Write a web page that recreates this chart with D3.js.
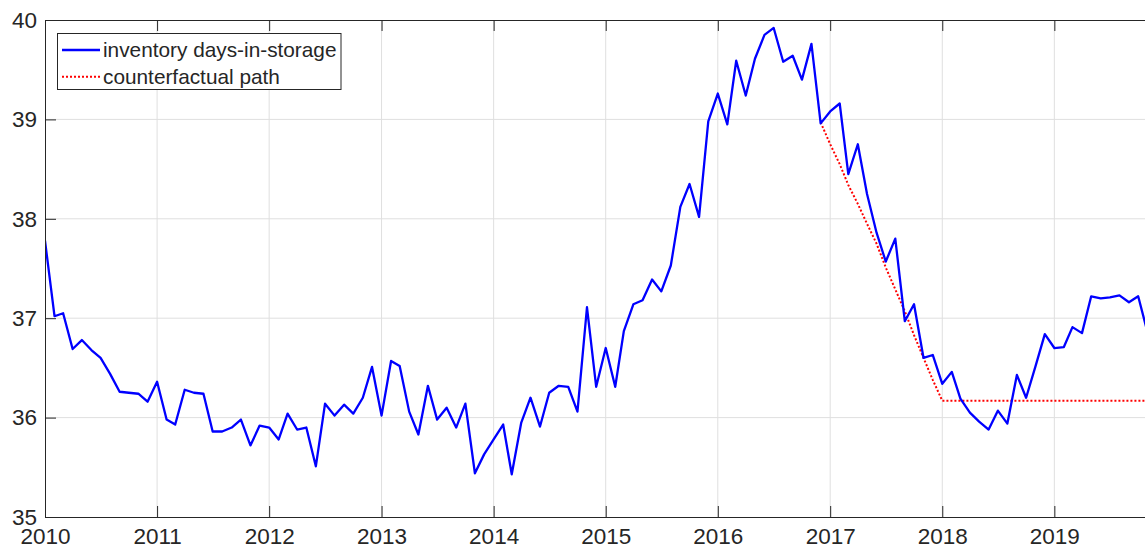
<!DOCTYPE html>
<html>
<head>
<meta charset="utf-8">
<script src="https://cdn.jsdelivr.net/npm/d3@7"></script>
<style>
  body { margin: 0; background: #fff; }
  svg text { font-family: "Liberation Sans", Arial, sans-serif; fill: #262626; }
</style>
</head>
<body>
<div id="chart"></div>
<script>
// monthly values, Jan 2010 .. Nov 2019
const inventory = [
  37.78, 37.02, 37.05, 36.69, 36.78, 36.68, 36.60, 36.44, 36.26, 36.25, 36.24, 36.16,
  36.36, 35.98, 35.93, 36.28, 36.25, 36.24, 35.86, 35.86, 35.90, 35.98, 35.72, 35.92,
  35.90, 35.78, 36.04, 35.88, 35.90, 35.51, 36.14, 36.02, 36.13, 36.04, 36.20, 36.51,
  36.02, 36.57, 36.52, 36.06, 35.83, 36.32, 35.98, 36.10, 35.90, 36.14, 35.44, 35.63,
  35.78, 35.93, 35.43, 35.95, 36.20, 35.91, 36.25, 36.32, 36.31, 36.06, 37.11, 36.31,
  36.70, 36.31, 36.87, 37.14, 37.18, 37.39, 37.27, 37.53, 38.12, 38.35, 38.02, 38.98,
  39.26, 38.95, 39.59, 39.24, 39.61, 39.85, 39.92, 39.58, 39.64, 39.40, 39.76, 38.96,
  39.08, 39.16, 38.45, 38.75, 38.25, 37.86, 37.57, 37.80, 36.97, 37.14, 36.60, 36.63,
  36.34, 36.46, 36.19, 36.05, 35.96, 35.88, 36.07, 35.94, 36.43, 36.20, 36.52, 36.84,
  36.70, 36.71, 36.91, 36.85, 37.22, 37.20, 37.21, 37.23, 37.16, 37.22, 36.85
];

// counterfactual path, Dec 2016 .. Nov 2019
const counterfactualStart = 83;
const counterfactual = [
  38.97,
  38.75, 38.55, 38.34, 38.15, 37.95, 37.75, 37.51, 37.29, 37.07, 36.83, 36.60, 36.38,
  36.17, 36.17, 36.17, 36.17, 36.17, 36.17, 36.17, 36.17, 36.17, 36.17, 36.17, 36.17,
  36.17, 36.17, 36.17, 36.17, 36.17, 36.17, 36.17, 36.17, 36.17, 36.17, 36.17
];

const yearTicks = [2010, 2011, 2012, 2013, 2014, 2015, 2016, 2017, 2018, 2019];
const valueTicks = [35, 36, 37, 38, 39, 40];
const legendLabels = ["inventory days-in-storage", "counterfactual path"];

const W = 1145, H = 547;
const margin = {top: 20, left: 45};
const plotRight = 1147.7, plotBottom = 517;

const monthDate = i => d3.utcMonth.offset(new Date(Date.UTC(2010, 0, 1)), i);

const svg = d3.select("#chart")
  .append("svg")
    .attr("width", W)
    .attr("height", H);

const x = d3.scaleUtc()
  .domain([monthDate(0), monthDate(inventory.length - 1)])
  .range([margin.left, plotRight]);

const y = d3.scaleLinear()
  .domain([35, 40])
  .range([plotBottom, margin.top]);

// grid
const grid = svg.append("g").attr("stroke", "#dfdfdf").attr("stroke-width", 1);
grid.selectAll(".gx")
  .data(yearTicks.slice(1))
  .join("line")
    .attr("x1", d => x(new Date(Date.UTC(d, 0, 1))))
    .attr("x2", d => x(new Date(Date.UTC(d, 0, 1))))
    .attr("y1", margin.top)
    .attr("y2", plotBottom);
grid.selectAll(".gy")
  .data(valueTicks.slice(1, -1))
  .join("line")
    .attr("x1", margin.left)
    .attr("x2", plotRight)
    .attr("y1", d => y(d))
    .attr("y2", d => y(d));

svg.append("clipPath").attr("id", "clip")
  .append("rect")
    .attr("x", margin.left).attr("y", margin.top)
    .attr("width", plotRight - margin.left).attr("height", plotBottom - margin.top);

// data lines
const line = d3.line()
  .x(d => x(d[0]))
  .y(d => y(d[1]));

svg.append("path")
  .datum(counterfactual.map((v, i) => [monthDate(counterfactualStart + i), v]))
  .attr("clip-path", "url(#clip)")
  .attr("fill", "none")
  .attr("stroke", "#ff0000")
  .attr("stroke-width", 2)
  .attr("stroke-dasharray", "2,2")
  .attr("d", line);

svg.append("path")
  .datum(inventory.map((v, i) => [monthDate(i), v]))
  .attr("clip-path", "url(#clip)")
  .attr("fill", "none")
  .attr("stroke", "#0000ff")
  .attr("stroke-width", 2.3)
  .attr("stroke-linejoin", "round")
  .attr("d", line);

// axes
const yearDates = yearTicks.map(d => new Date(Date.UTC(d, 0, 1)));

const xAxis = svg.append("g")
  .attr("transform", `translate(0, ${plotBottom})`)
  .call(d3.axisBottom(x).tickValues(yearDates).tickFormat(d3.utcFormat("%Y"))
    .tickSizeInner(-11).tickSizeOuter(0).tickPadding(11));

const xTop = svg.append("g")
  .attr("transform", `translate(0, ${margin.top})`)
  .call(d3.axisTop(x).tickValues(yearDates).tickFormat("")
    .tickSizeInner(-11).tickSizeOuter(0));

const yAxis = svg.append("g")
  .attr("transform", `translate(${margin.left}, 0)`)
  .call(d3.axisLeft(y).tickValues(valueTicks).tickFormat(d3.format("d"))
    .tickSizeInner(-11).tickSizeOuter(0).tickPadding(8));

[xAxis, xTop, yAxis].forEach(g => {
  g.selectAll("path, line").attr("stroke", "#262626").attr("stroke-width", 1);
  g.selectAll("text").attr("font-size", 22.5).attr("fill", "#262626");
});

// legend
const legend = svg.append("g");
legend.append("rect")
  .attr("x", 57.5).attr("y", 33.5)
  .attr("width", 283.5).attr("height", 56)
  .attr("fill", "#fff")
  .attr("stroke", "#262626")
  .attr("stroke-width", 1);

const legendStyles = [
  {color: "#0000ff", dash: null, width: 2.3},
  {color: "#ff0000", dash: "2,2", width: 2}
];
legendLabels.forEach((label, i) => {
  const cy = 50 + i * 26.7;
  legend.append("line")
    .attr("x1", 62).attr("x2", 100)
    .attr("y1", cy).attr("y2", cy)
    .attr("stroke", legendStyles[i].color)
    .attr("stroke-width", legendStyles[i].width)
    .attr("stroke-dasharray", legendStyles[i].dash);
  legend.append("text")
    .attr("x", 103).attr("y", cy)
    .attr("dy", "0.36em")
    .attr("font-size", 20.8)
    .text(label);
});
</script>
</body>
</html>
